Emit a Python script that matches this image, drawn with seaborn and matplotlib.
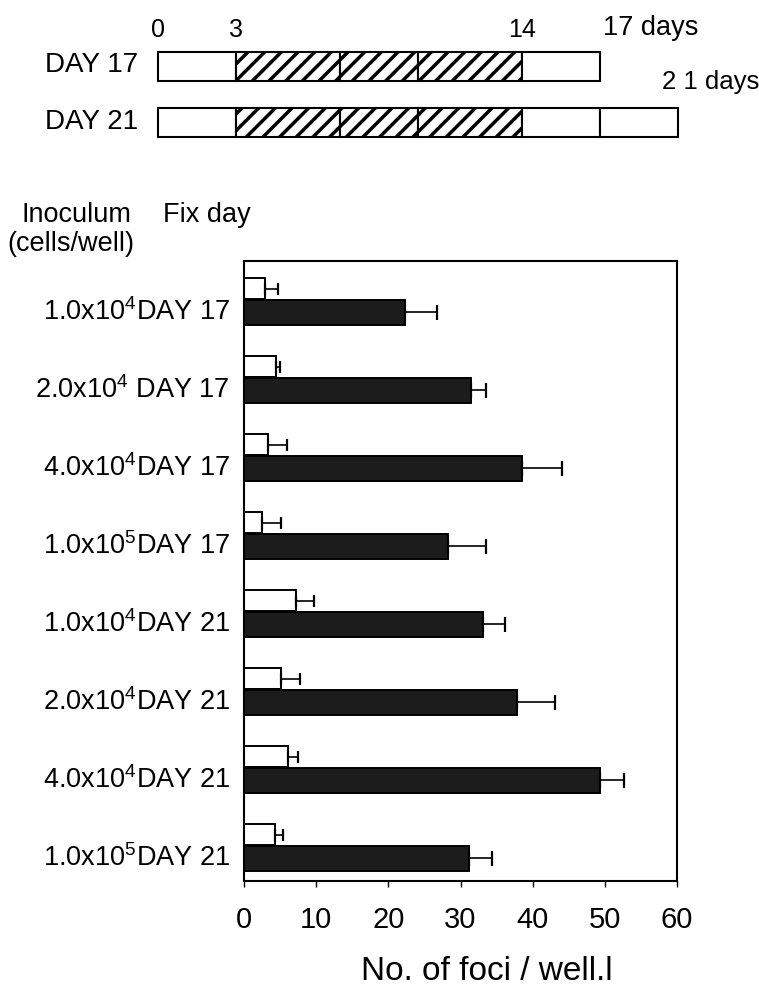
import numpy as np
import pandas as pd
import seaborn as sns
import matplotlib.pyplot as plt

sns.set_theme(style="white")
plt.rcParams['font.family'] = ['Liberation Sans', 'DejaVu Sans']
plt.rcParams['mathtext.fontset'] = 'custom'
plt.rcParams['mathtext.rm'] = 'Liberation Sans'
plt.rcParams['mathtext.default'] = 'regular'
plt.rcParams['hatch.linewidth'] = 2.5
for k in ['text.color', 'axes.labelcolor', 'xtick.color', 'ytick.color']:
    plt.rcParams[k] = 'black'

# ---------------- data ----------------
group_labels = [r"1.0x10$^4$DAY 17", r"2.0x10$^4$ DAY 17", r"4.0x10$^4$DAY 17",
                r"1.0x10$^5$DAY 17", r"1.0x10$^4$DAY 21", r"2.0x10$^4$DAY 21",
                r"4.0x10$^4$DAY 21", r"1.0x10$^5$DAY 21"]
group_ids = [f"g{i+1}" for i in range(len(group_labels))]
open_values = [2.9, 4.4, 3.3, 2.5, 7.2, 5.1, 6.1, 4.3]
open_errors = [1.8, 0.6, 2.6, 2.6, 2.5, 2.7, 1.4, 1.1]
filled_values = [22.3, 31.5, 38.5, 28.3, 33.1, 37.8, 49.3, 31.2]
filled_errors = [4.5, 2.0, 5.6, 5.3, 3.1, 5.3, 3.3, 3.2]
x_ticks = [0, 10, 20, 30, 40, 50, 60]

# schematic (days)
day17_bounds = [0, 3, 7, 10, 14, 17]
day21_bounds = [0, 3, 7, 10, 14, 17, 20]
treat_start, treat_end = 3, 14
day_ticks = ["0", "3", "14"]
day_tick_pos = [0, 3, 14]

df = pd.DataFrame({
    "group": group_ids * 2,
    "value": open_values + filled_values,
    "series": ["open"] * len(group_ids) + ["filled"] * len(group_ids),
})
err_map = {("open", g): e for g, e in zip(group_ids, open_errors)}
err_map.update({("filled", g): e for g, e in zip(group_ids, filled_errors)})

W, H = 759, 998
fig = plt.figure(figsize=(W / 100, H / 100), dpi=100)

# ---------------- main bar chart ----------------
ax = fig.add_axes([244 / W, 1 - 881 / H, 433 / W, 620 / H])
sns.barplot(data=df, y="group", x="value", hue="series", orient="h",
            order=group_ids, hue_order=["open", "filled"],
            palette={"open": "white", "filled": "#1c1c1c"},
            edgecolor="black", linewidth=1.4, width=0.6, dodge=True,
            errorbar=None, legend=False, ax=ax)

for p in list(ax.patches):
    yc = p.get_y() + p.get_height() / 2
    gi = int(round(yc))
    is_open = p.get_facecolor()[0] > 0.5
    if is_open:
        p.set_y(gi - 0.27)
        p.set_height(0.27)
        ser = "open"
        cap = 4.6
    else:
        p.set_y(gi + 0.01)
        p.set_height(0.32)
        ser = "filled"
        cap = 5.4
    e = err_map[(ser, group_ids[gi])]
    ax.errorbar(p.get_width(), p.get_y() + p.get_height() / 2,
                xerr=[[0], [e]], fmt="none", ecolor="black",
                elinewidth=1.2, capsize=cap, capthick=1.6, zorder=3)

ax.set_xlim(0, 60)
ax.set_ylim(7.46, -0.49)
ax.set_xticks(x_ticks)
ax.set_xticklabels([str(t) for t in x_ticks], fontsize=21)
ax.set_yticks(np.arange(len(group_ids)) + 0.13)
ax.set_yticklabels(group_labels, fontsize=19.5)
ax.tick_params(axis="y", length=0, pad=10)
ax.tick_params(axis="x", length=4, width=1, direction="out", pad=14,
               bottom=True)
for s in ax.spines.values():
    s.set_visible(True)
    s.set_color("black")
    s.set_linewidth(1.5)
ax.set_ylabel("")
ax.set_xlabel("No. of foci / well.l", fontsize=24)
ax.xaxis.set_label_coords((487 - 244) / 433, (881 - 956) / 620)

# headers
fig.text(22 / W, 1 - 215 / H, "Inoculum", fontsize=19.5, va="center", ha="left")
fig.text(7 / W, 1 - 244 / H, "(cells/well)", fontsize=19.5, va="center", ha="left")
fig.text(163 / W, 1 - 215 / H, "Fix day", fontsize=19.5, va="center", ha="left")

# ---------------- schematic ----------------
top = fig.add_axes([0, 1 - 150 / H, 1, 150 / H])
top.set_xlim(-158 / 26, (W - 158) / 26)
top.set_ylim(150, 0)
top.axis("off")

for bounds, yc in [(day17_bounds, 66.5), (day21_bounds, 122)]:
    lefts = bounds[:-1]
    widths = np.diff(bounds)
    for l, w in zip(lefts, widths):
        hatched = treat_start <= l < treat_end
        top.barh(yc, w, left=l, height=29, color="white",
                 edgecolor="black", linewidth=1.5,
                 hatch="//" if hatched else None)

for lab, pos in zip(day_ticks, day_tick_pos):
    top.text(pos, 30, lab, fontsize=18, ha="center", va="center")
top.text(17.1, 28, "17 days", fontsize=19.5, ha="left", va="center")
top.text(19.4, 82, "2 1 days", fontsize=18.5, ha="left", va="center")
top.text(-0.77, 65, "DAY 17", fontsize=20, ha="right", va="center")
top.text(-0.77, 122, "DAY 21", fontsize=20, ha="right", va="center")

fig.savefig("out.png", dpi=100)
